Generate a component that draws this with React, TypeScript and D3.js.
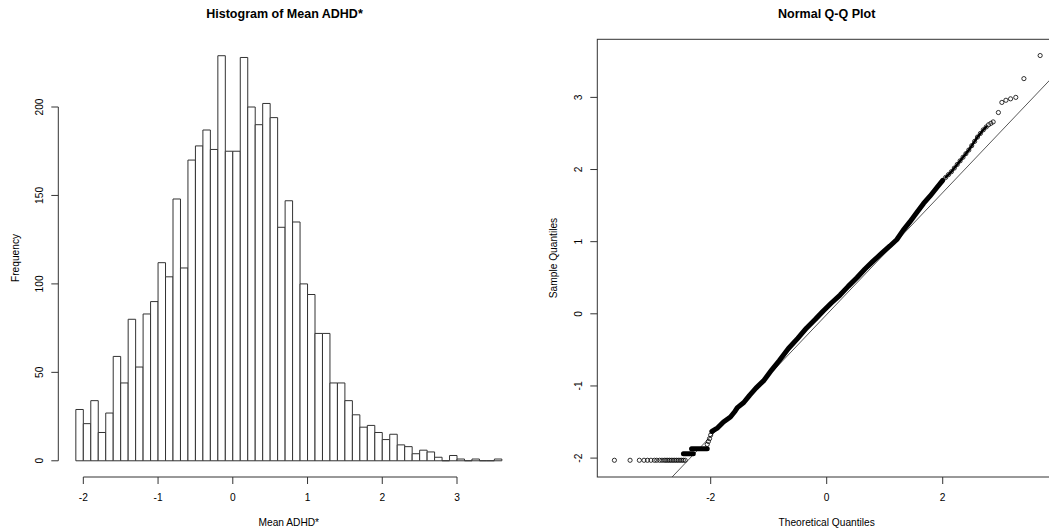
import React from 'react';
import * as d3 from 'd3';

// histogram of Mean ADHD* (bin breaks and counts)
const histBreaks = [
  -2.1, -2.0, -1.9, -1.8, -1.7, -1.6, -1.5, -1.4, -1.3, -1.2, -1.1, -1.0, -0.9, -0.8, -0.7,
  -0.6, -0.5, -0.4, -0.3, -0.2, -0.1, 0.0, 0.1, 0.2, 0.3, 0.4, 0.5, 0.6, 0.7, 0.8, 0.9, 1.0,
  1.1, 1.2, 1.3, 1.4, 1.5, 1.6, 1.7, 1.8, 1.9, 2.0, 2.1, 2.2, 2.3, 2.4, 2.5, 2.6, 2.7, 2.8,
  2.9, 3.0, 3.1, 3.2, 3.3, 3.4, 3.5, 3.6,
];
const histCounts = [
  29, 21, 34, 16, 27, 59, 44, 80, 53, 83,
  90, 112, 104, 148, 109, 170, 178, 187, 176, 229,
  175, 175, 228, 200, 190, 202, 194, 132, 147, 135,
  100, 94, 72, 72, 44, 44, 34, 26, 19, 20,
  16, 12, 15, 9, 8, 4, 6, 5, 2, 0,
  3, 1, 0, 1, 0, 0, 1,
];
const histXTicks = [-2, -1, 0, 1, 2, 3];
const histYTicks = [0, 50, 100, 150, 200];

// normal Q-Q plot: [theoretical, sample]
const qqLowTail = [
  [-3.66, -2.03], [-3.39, -2.03], [-3.23, -2.03], [-3.15, -2.03], [-3.09, -2.03],
  [-3.03, -2.03], [-2.97, -2.03], [-2.93, -2.03], [-2.88, -2.03], [-2.84, -2.03],
  [-2.8, -2.03], [-2.77, -2.03], [-2.74, -2.03], [-2.71, -2.03], [-2.68, -2.03],
  [-2.65, -2.03], [-2.62, -2.03], [-2.59, -2.03], [-2.56, -2.03], [-2.53, -2.03],
  [-2.5, -2.03], [-2.47, -2.03], [-2.44, -2.03],
];
const qqStepA = [[-2.47, -1.94], [-2.3, -1.94]];
const qqStepB = [[-2.33, -1.87], [-2.06, -1.87]];
const qqRise = [[-2.06, -1.81], [-2.04, -1.77], [-2.02, -1.73], [-2.0, -1.68]];
const qqBody = [
  [-1.98, -1.63], [-1.88, -1.58], [-1.78, -1.5], [-1.66, -1.43], [-1.58, -1.35],
  [-1.54, -1.3], [-1.43, -1.23], [-1.33, -1.13], [-1.22, -1.03], [-1.09, -0.93],
  [-0.95, -0.78], [-0.82, -0.65], [-0.66, -0.48], [-0.5, -0.34], [-0.35, -0.2],
  [-0.2, -0.08], [-0.06, 0.04], [0.08, 0.15], [0.23, 0.26], [0.37, 0.38],
  [0.52, 0.5], [0.66, 0.62], [0.8, 0.73], [0.95, 0.84], [1.09, 0.94],
  [1.21, 1.03], [1.32, 1.16], [1.43, 1.27], [1.55, 1.4], [1.67, 1.53],
  [1.78, 1.63], [1.9, 1.75], [2.0, 1.85],
];
const qqHighTail = [
  [2.05, 1.89], [2.1, 1.93], [2.15, 1.97], [2.2, 2.02], [2.25, 2.07], [2.3, 2.12],
  [2.35, 2.17], [2.4, 2.22], [2.45, 2.27], [2.5, 2.33], [2.55, 2.39], [2.6, 2.45],
  [2.65, 2.5], [2.7, 2.55], [2.75, 2.59], [2.79, 2.62], [2.83, 2.64], [2.87, 2.66],
  [2.96, 2.79], [3.02, 2.93], [3.09, 2.96], [3.17, 2.98], [3.26, 3.0], [3.4, 3.26],
  [3.68, 3.58],
];
const qqLine = { intercept: -0.01, slope: 0.845 };
const qqXTicks = [-2, 0, 2];
const qqYTicks = [-2, -1, 0, 1, 2, 3];

const FONT = '"Liberation Sans", Arial, sans-serif';

function Histogram() {
  const x = d3.scaleLinear().domain([-2.328, 3.828]).range([58.8, 518.9]);
  const y = d3.scaleLinear().domain([-9.16, 238.16]).range([477, 39.5]);
  const axisY = 477;
  return (
    <g>
      <text x={284.5} y={18} textAnchor="middle" fontWeight="bold" fontSize={12.5}>
        Histogram of Mean ADHD*
      </text>
      {histCounts.map((c, i) => {
        const x0 = x(histBreaks[i]);
        const x1 = x(histBreaks[i + 1]);
        const p = d3.path();
        p.moveTo(x0, y(0));
        p.lineTo(x0, y(c));
        p.lineTo(x1, y(c));
        p.lineTo(x1, y(0));
        p.closePath();
        return <path key={i} d={p.toString()} fill="#fff" stroke="#333" strokeWidth={1} />;
      })}
      {/* x axis */}
      <line x1={x(histXTicks[0])} x2={x(histXTicks[histXTicks.length - 1])} y1={axisY} y2={axisY} stroke="#333" />
      {histXTicks.map(t => (
        <g key={t}>
          <line x1={x(t)} x2={x(t)} y1={axisY} y2={axisY + 7} stroke="#333" />
          <text x={x(t)} y={500.7} textAnchor="middle" fontSize={10.2}>{t}</text>
        </g>
      ))}
      <text x={288.8} y={526} textAnchor="middle" fontSize={10.2}>Mean ADHD*</text>
      {/* y axis */}
      <line x1={58.3} x2={58.3} y1={y(0)} y2={y(200)} stroke="#333" />
      {histYTicks.map(t => (
        <g key={t}>
          <line x1={58.3} x2={51.3} y1={y(t)} y2={y(t)} stroke="#333" />
          <text transform={`translate(43.3,${y(t)}) rotate(-90)`} textAnchor="middle" fontSize={10.2}>{t}</text>
        </g>
      ))}
      <text transform={`translate(19,258) rotate(-90)`} textAnchor="middle" fontSize={10.2}>Frequency</text>
    </g>
  );
}

function QQPlot() {
  const x = d3.scaleLinear().domain([-3.955, 3.955]).range([597.3, 1056.1]);
  const y = d3.scaleLinear().domain([-2.262, 3.805]).range([477, 39.3]);
  const [xl, xr] = x.domain();
  const line = d3.line<number[]>().x(d => x(d[0])).y(d => y(d[1]));
  const refPts = [xl, xr].map(t => [t, qqLine.intercept + qqLine.slope * t]);
  const circles = [...qqLowTail, ...qqRise, ...qqHighTail];
  return (
    <g>
      <text x={826.7} y={18} textAnchor="middle" fontWeight="bold" fontSize={12.5}>
        Normal Q-Q Plot
      </text>
      <defs>
        <clipPath id="qqclip">
          <rect x={597.3} y={39.3} width={1056.1 - 597.3} height={477 - 39.3} />
        </clipPath>
      </defs>
      <g clipPath="url(#qqclip)">
        <path d={line(refPts) || ''} fill="none" stroke="#444" strokeWidth={0.9} />
        <path d={line(qqStepA) || ''} fill="none" stroke="#000" strokeWidth={5} strokeLinecap="round" />
        <path d={line(qqStepB) || ''} fill="none" stroke="#000" strokeWidth={5} strokeLinecap="round" />
        <path d={line(qqBody) || ''} fill="none" stroke="#000" strokeWidth={5} strokeLinecap="round" strokeLinejoin="round" />
        <path d={line(qqHighTail.slice(0, 15)) || ''} fill="none" stroke="#000" strokeWidth={2.5} strokeLinecap="round" strokeLinejoin="round" />
        {circles.map((d, i) => (
          <circle key={i} cx={x(d[0])} cy={y(d[1])} r={2.1} fill="none" stroke="#000" strokeWidth={0.8} />
        ))}
      </g>
      <rect x={597.3} y={39.3} width={1056.1 - 597.3} height={477 - 39.3} fill="none" stroke="#333" />
      {qqXTicks.map(t => (
        <g key={t}>
          <line x1={x(t)} x2={x(t)} y1={477} y2={484} stroke="#333" />
          <text x={x(t)} y={500.7} textAnchor="middle" fontSize={10.2}>{t}</text>
        </g>
      ))}
      <text x={826.7} y={526} textAnchor="middle" fontSize={10.2}>Theoretical Quantiles</text>
      {qqYTicks.map(t => (
        <g key={t}>
          <line x1={597.3} x2={590.3} y1={y(t)} y2={y(t)} stroke="#333" />
          <text transform={`translate(581.7,${y(t)}) rotate(-90)`} textAnchor="middle" fontSize={10.2}>{t}</text>
        </g>
      ))}
      <text transform={`translate(557.3,258) rotate(-90)`} textAnchor="middle" fontSize={10.2}>Sample Quantiles</text>
    </g>
  );
}

export default function App() {
  return (
    <svg
      width={1049}
      height={532}
      style={{ position: 'absolute', left: 0, top: 0, background: '#fff' }}
      fontFamily={FONT}
    >
      <rect x={0} y={0} width={1049} height={532} fill="#fff" />
      <Histogram />
      <QQPlot />
    </svg>
  );
}
